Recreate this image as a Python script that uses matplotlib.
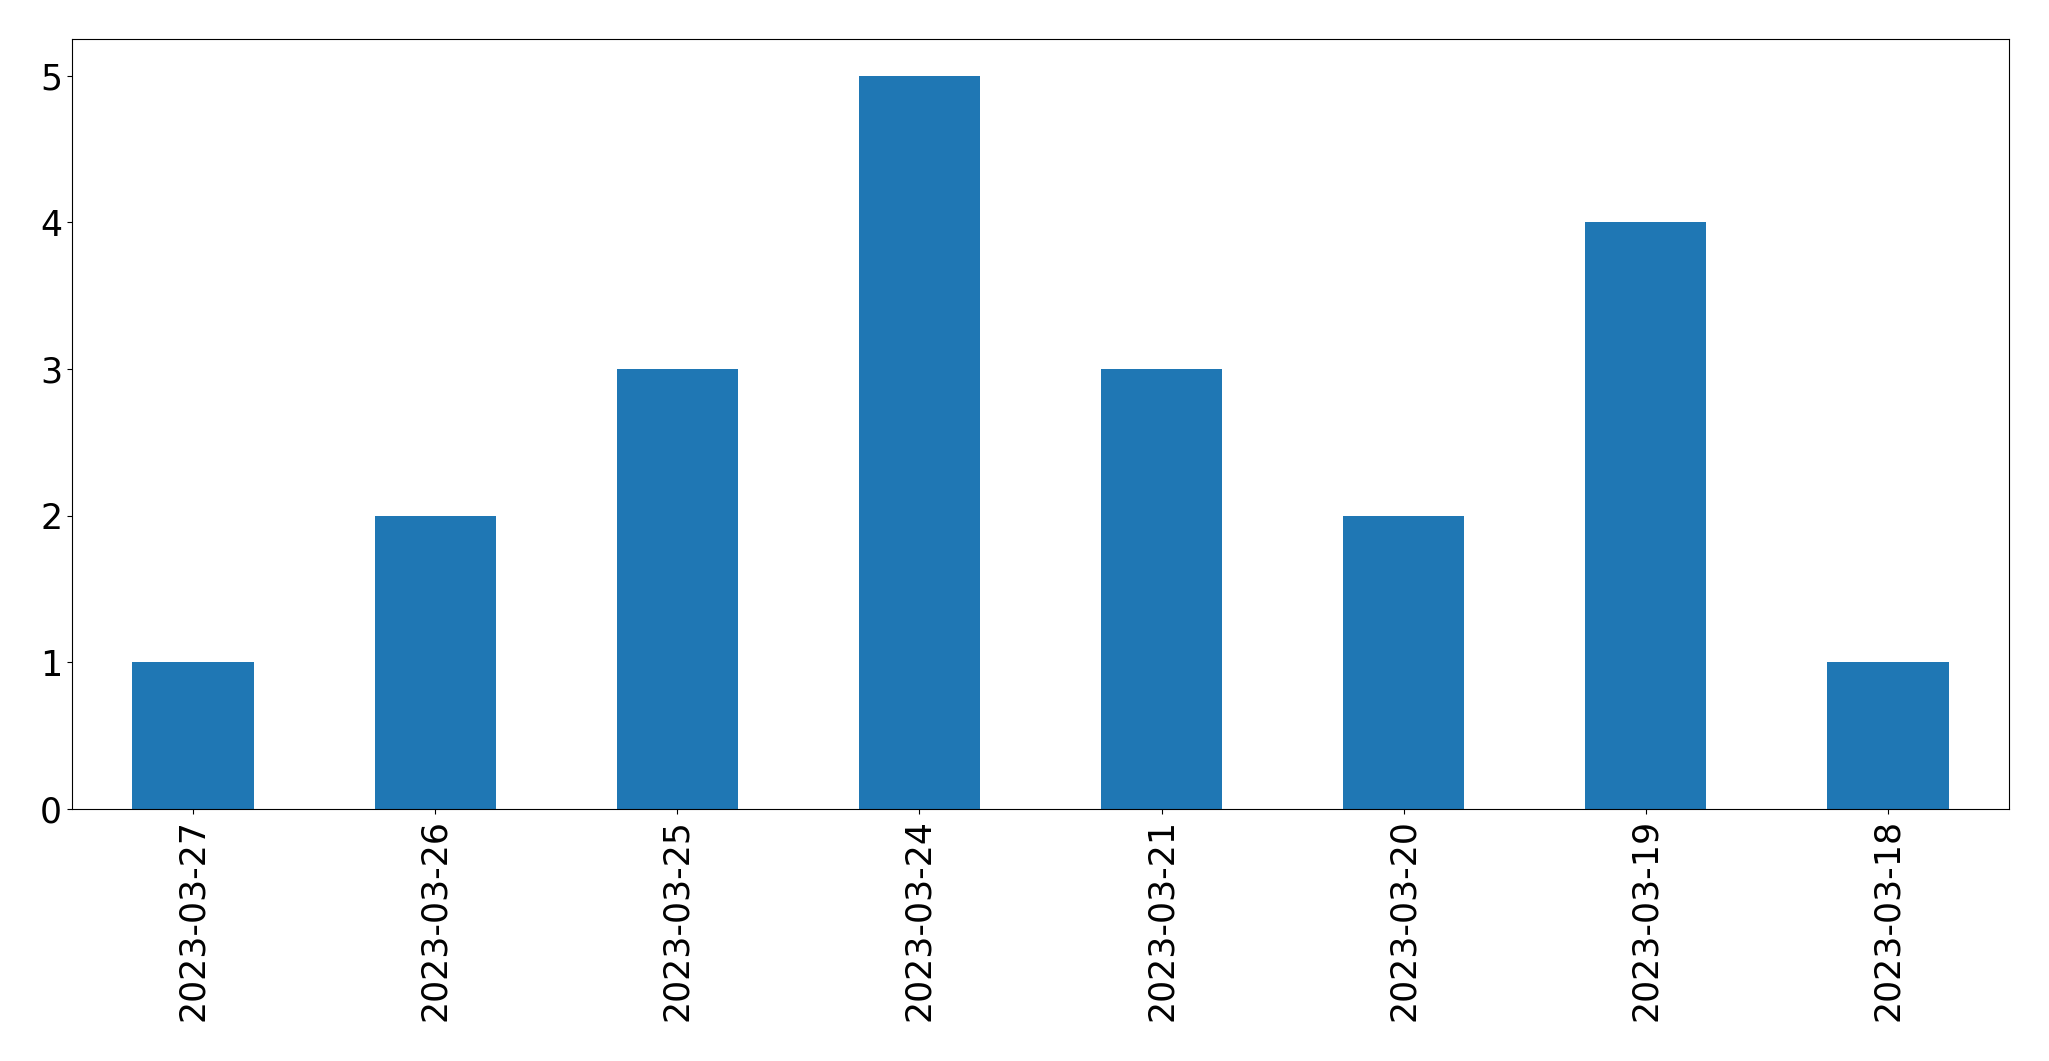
import matplotlib
matplotlib.use("Agg")
import matplotlib.pyplot as plt

dates = ["2023-03-27", "2023-03-26", "2023-03-25", "2023-03-24",
         "2023-03-21", "2023-03-20", "2023-03-19", "2023-03-18"]
counts = [1, 2, 3, 5, 3, 2, 4, 1]

fig = plt.figure(figsize=(20.49, 10.61), dpi=100)
ax = fig.add_axes([0.0351, 0.2375, 0.9454, 0.7257])
x = list(range(len(dates)))
ax.bar(x, counts, width=0.5, color="#1f77b4")
ax.set_xlim(-0.5, len(dates) - 0.5)
ax.set_ylim(0, 5.25)
ax.set_xticks(x)
ax.set_xticklabels(dates, rotation=90)
ax.set_yticks([0, 1, 2, 3, 4, 5])
ax.tick_params(labelsize=25)
fig.savefig("out.png", dpi=100)
